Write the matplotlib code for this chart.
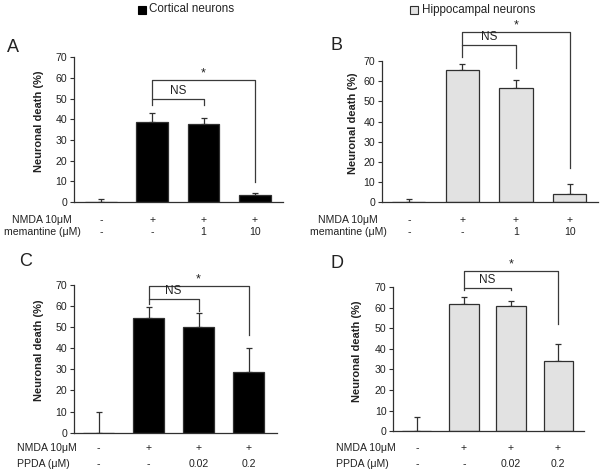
import numpy as np
import matplotlib
matplotlib.use("Agg")
import matplotlib.pyplot as plt
from matplotlib.patches import Rectangle
from matplotlib.transforms import blended_transform_factory

plt.rcParams['font.family'] = ['Liberation Sans', 'DejaVu Sans']

W, H = 600, 472

# ---- data ----
vals_A = [0, 38.7, 37.6, 3.3]
err_A = [1.5, 4.2, 3.2, 0.9]
vals_B = [0, 65.3, 56.4, 4.1]
err_B = [1.5, 3.2, 4.2, 4.8]
vals_C = [0, 54.1, 49.8, 28.5]
err_C = [9.8, 5.2, 6.6, 11.7]
vals_D = [0, 61.9, 60.6, 33.9]
err_D = [6.8, 3.4, 2.8, 8.3]

nmda_row = ['-', '+', '+', '+']
memantine_row = ['-', '-', '1', '10']
ppda_row = ['-', '-', '0.02', '0.2']

# brackets: (ns_y, ns_left_bottom, ns_right_bottom, star_y, star_right_bottom)
brk_A = (50.0, 46.8, 46.8, 59.0, 9.9)
brk_B = (78.1, 72.0, 66.5, 84.2, 16.9)
brk_C = (63.2, 60.9, 57.5, 69.5, 46.2)
brk_D = (69.4, 68.5, 68.4, 77.9, 51.9)

yticks = [0, 10, 20, 30, 40, 50, 60, 70]

fig = plt.figure(figsize=(6, 4.72), dpi=100)


def px_axes(l, r, b, t):
    return fig.add_axes([l / W, 1 - b / H, (r - l) / W, (b - t) / H])


panels = [
    # letter, vals, err, color, box(l,r,bottom,top px), brk, row2 label, row2, letter pos, ylabel x, row label x, align, row ys
    ('A', vals_A, err_A, 'black', (74, 283, 202, 57.3), brk_A, 'memantine (μM)', memantine_row,
     (13, 47), 39, 42, 'center', (220, 231.7), (-0.53, 3.55)),
    ('B', vals_B, err_B, '#e2e2e2', (382, 598, 202.3, 61), brk_B, 'memantine (μM)', memantine_row,
     (336, 46), 353, 348, 'center', (220, 231.7), (-0.5, 3.53)),
    ('C', vals_C, err_C, 'black', (74, 277, 432.7, 284.7), brk_C, 'PPDA (μM)', ppda_row,
     (26, 262), 39, 17, 'left', (448.3, 464), (-0.49, 3.57)),
    ('D', vals_D, err_D, '#e2e2e2', (393.3, 584, 431.3, 287), brk_D, 'PPDA (μM)', ppda_row,
     (337, 263), 357, 336, 'left', (448.3, 464), (-0.5, 3.55)),
]

line_col = '#3a3a3a'

for (letter, vals, err, col, box, brk, r2lab, r2, lpos, ylx, rlx, ralign, rys, xl) in panels:
    ax = px_axes(*box)
    x = np.arange(len(vals))
    ax.bar(x, vals, width=0.62, color=col, edgecolor='#303030', linewidth=0.9, zorder=2)
    ax.errorbar(x, vals, yerr=[np.zeros(len(err)), err], fmt='none', ecolor='#303030',
                elinewidth=0.9, capsize=2.2, capthick=0.9, zorder=1)
    ax.set_xlim(*xl)
    ax.set_ylim(0, 70)
    ax.set_yticks(yticks)
    ax.set_yticklabels([str(t) for t in yticks], fontsize=7.6, color='#222222')
    ax.set_xticks([])
    for s in ['top', 'right']:
        ax.spines[s].set_visible(False)
    for s in ['left', 'bottom']:
        ax.spines[s].set_color('#303030')
        ax.spines[s].set_linewidth(0.9)
    ax.tick_params(axis='y', direction='out', length=3, width=0.8, pad=2, color='#303030')

    # brackets
    ns_y, ns_lb, ns_rb, st_y, st_rb = brk
    kw = dict(color=line_col, lw=0.9, clip_on=False)
    ax.plot([1, 1, 2, 2], [ns_lb, ns_y, ns_y, ns_rb], **kw)
    ax.plot([1, 1, 3, 3], [ns_y, st_y, st_y, st_rb], **kw)
    ax.text(1.5, ns_y + 1.0, 'NS', ha='center', va='bottom', fontsize=8.5, color='#222222', clip_on=False)
    ax.text(2.0, st_y + 0.3, '*', ha='center', va='bottom', fontsize=9, color='#222222', clip_on=False)

    # row labels
    tr = blended_transform_factory(ax.transData, fig.transFigure)
    for i in range(4):
        fig.text(0, 0, '')
        ax.text(x[i], 1 - rys[0] / H, nmda_row[i], transform=tr, ha='center', va='center',
                fontsize=7.6, color='#222222', clip_on=False)
        ax.text(x[i], 1 - rys[1] / H, r2[i], transform=tr, ha='center', va='center',
                fontsize=7.6, color='#222222', clip_on=False)
    fig.text(rlx / W, 1 - rys[0] / H, 'NMDA 10μM', ha=ralign, va='center', fontsize=7.6, color='#222222')
    fig.text(rlx / W, 1 - rys[1] / H, r2lab, ha=ralign, va='center', fontsize=7.6, color='#222222')

    # y label
    fig.text(ylx / W, 1 - ((box[2] + box[3]) / 2 - 8) / H, 'Neuronal death (%)', rotation=90,
             ha='center', va='center', fontsize=8, fontweight='bold', color='#222222')

    # panel letter
    fig.text(lpos[0] / W, 1 - lpos[1] / H, letter, ha='center', va='center', fontsize=13, color='#222222')

# legends
fig.patches.append(Rectangle((138 / W, 1 - 13.5 / H), 8 / W, 8 / H, transform=fig.transFigure,
                             facecolor='black', edgecolor='black', lw=0.8))
fig.text(149 / W, 1 - 9.5 / H, 'Cortical neurons', ha='left', va='center', fontsize=8.4, color='#222222')
fig.patches.append(Rectangle((410 / W, 1 - 13.5 / H), 7.5 / W, 7.5 / H, transform=fig.transFigure,
                             facecolor='#e2e2e2', edgecolor='#303030', lw=0.8))
fig.text(422 / W, 1 - 9.5 / H, 'Hippocampal neurons', ha='left', va='center', fontsize=8.4, color='#222222')

fig.savefig('out.png', dpi=100)
